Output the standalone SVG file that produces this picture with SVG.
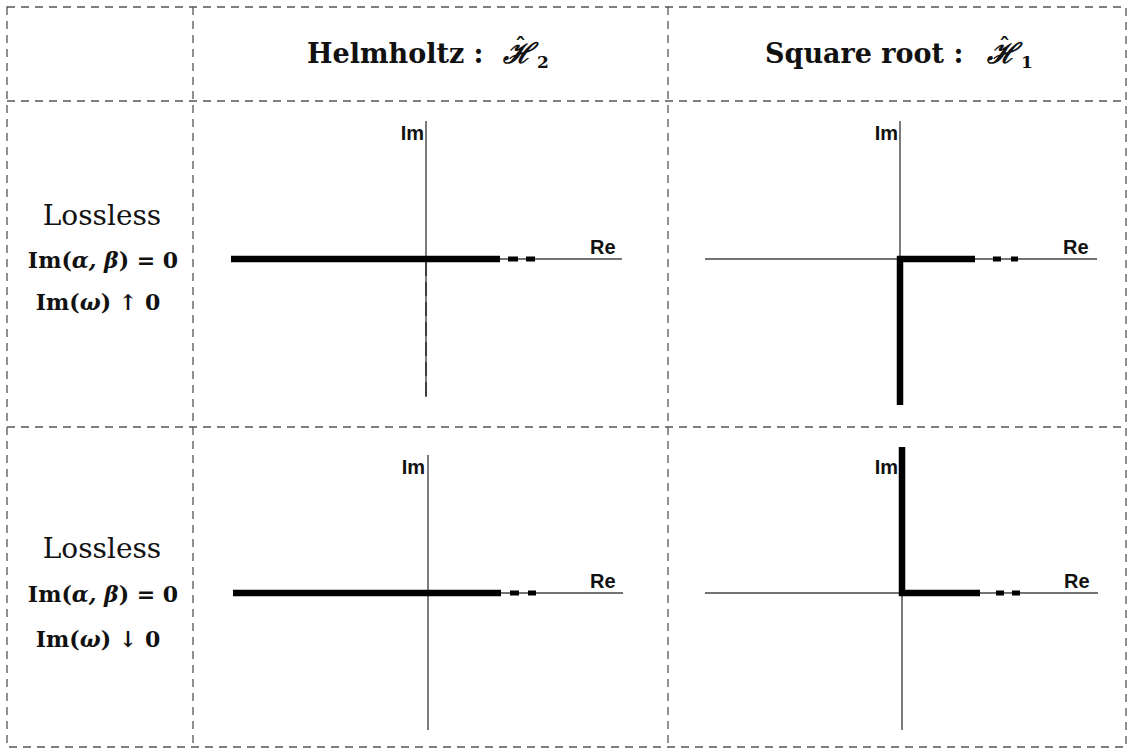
<svg xmlns="http://www.w3.org/2000/svg" width="1132" height="751" viewBox="0 0 1132 751">
  <style>
    .grid { stroke: #555; stroke-width: 1.3; stroke-dasharray: 8 6; fill: none; }
    .axis { stroke: #444; stroke-width: 1.4; fill: none; }
    .tick { stroke: #000; stroke-width: 1; stroke-dasharray: 14 6; fill: none; }
    .cut { stroke: #000; stroke-width: 6.5; fill: none; }
    .dot { stroke: #000; stroke-width: 5; fill: none; }
    .head { font-family: "DejaVu Serif", "Liberation Serif", serif; font-weight: bold; font-size: 27px; fill: #111; }
    .cal { font-family: "DejaVu Serif", serif; font-style: italic; font-weight: bold; font-size: 28px; fill: #111; }
    .hat { font-style: normal; font-size: 22px; }
    .sub { font-family: "DejaVu Serif", serif; font-style: normal; font-weight: bold; font-size: 17px; fill: #111; }
    .row1 { font-family: "DejaVu Serif", "Liberation Serif", serif; font-size: 28px; fill: #111; }
    .row2 { font-family: "DejaVu Serif", "Liberation Serif", serif; font-weight: bold; font-size: 22px; fill: #111; }
    .ax { font-family: "Liberation Sans", Arial, sans-serif; font-weight: bold; font-size: 20px; fill: #111; }
  </style>
  <rect width="1132" height="751" fill="#fff"/>

  <!-- table grid -->
  <g id="grid">
    <rect class="grid" x="7" y="7" width="1119" height="740"/>
    <line class="grid" x1="193" y1="7" x2="193" y2="747"/>
    <line class="grid" x1="668" y1="7" x2="668" y2="747"/>
    <line class="grid" x1="7" y1="101" x2="1126" y2="101"/>
    <line class="grid" x1="7" y1="427" x2="1126" y2="427"/>
  </g>

  <!-- column headers: the hat accent sits above the script H -->
  <g id="header-helmholtz">
    <text class="head" x="307" y="63">Helmholtz :</text>
    <text class="cal" x="503" y="63">ℋ<tspan class="hat" x="515" y="54">ˆ</tspan><tspan class="sub" x="537" y="68">2</tspan></text>
  </g>
  <g id="header-sqrt">
    <text class="head" x="765" y="63">Square root :</text>
    <text class="cal" x="987" y="63">ℋ<tspan class="hat" x="999" y="54">ˆ</tspan><tspan class="sub" x="1021" y="68">1</tspan></text>
  </g>

  <!-- row headers -->
  <g id="row-up">
    <text class="row1" x="102" y="225" text-anchor="middle">Lossless</text>
    <text class="row2" x="103" y="268" text-anchor="middle">Im(<tspan font-style="italic">α, β</tspan>) = 0</text>
    <text class="row2" x="98" y="310" text-anchor="middle">Im(<tspan font-style="italic">ω</tspan>) ↑ 0</text>
  </g>
  <g id="row-down">
    <text class="row1" x="102" y="558" text-anchor="middle">Lossless</text>
    <text class="row2" x="103" y="602" text-anchor="middle">Im(<tspan font-style="italic">α, β</tspan>) = 0</text>
    <text class="row2" x="98" y="647" text-anchor="middle">Im(<tspan font-style="italic">ω</tspan>) ↓ 0</text>
  </g>

  <!-- Helmholtz, Im(ω) ↑ 0 -->
  <g id="plot-h2-up">
    <line class="axis" x1="426" y1="121" x2="426" y2="397"/>
    <line class="tick" x1="426" y1="262" x2="426" y2="397"/>
    <line class="axis" x1="231" y1="259" x2="622" y2="259"/>
    <line class="cut" x1="231" y1="259" x2="500" y2="259"/>
    <line class="dot" x1="508" y1="259" x2="518" y2="259"/>
    <line class="dot" x1="526" y1="259" x2="535" y2="259"/>
    <text class="ax" x="424" y="140" text-anchor="end">Im</text>
    <text class="ax" x="590" y="254">Re</text>
  </g>

  <!-- Square root, Im(ω) ↑ 0 -->
  <g id="plot-h1-up">
    <line class="axis" x1="900" y1="121" x2="900" y2="259"/>
    <line class="axis" x1="705" y1="259" x2="1097" y2="259"/>
    <line class="cut" x1="900" y1="256" x2="900" y2="405"/>
    <line class="cut" x1="897" y1="259" x2="975" y2="259"/>
    <line class="dot" x1="993" y1="259" x2="1001" y2="259"/>
    <line class="dot" x1="1011" y1="259" x2="1018" y2="259"/>
    <text class="ax" x="898" y="140" text-anchor="end">Im</text>
    <text class="ax" x="1063" y="254">Re</text>
  </g>

  <!-- Helmholtz, Im(ω) ↓ 0 -->
  <g id="plot-h2-down">
    <line class="axis" x1="428" y1="455" x2="428" y2="730"/>
    <line class="axis" x1="233" y1="593" x2="623" y2="593"/>
    <line class="cut" x1="233" y1="593" x2="501" y2="593"/>
    <line class="dot" x1="510" y1="593" x2="519" y2="593"/>
    <line class="dot" x1="528" y1="593" x2="536" y2="593"/>
    <text class="ax" x="425" y="474" text-anchor="end">Im</text>
    <text class="ax" x="590" y="588">Re</text>
  </g>

  <!-- Square root, Im(ω) ↓ 0 -->
  <g id="plot-h1-down">
    <line class="axis" x1="902" y1="593" x2="902" y2="730"/>
    <line class="axis" x1="705" y1="593" x2="1098" y2="593"/>
    <line class="cut" x1="902" y1="447" x2="902" y2="596"/>
    <line class="cut" x1="899" y1="593" x2="980" y2="593"/>
    <line class="dot" x1="996" y1="593" x2="1004" y2="593"/>
    <line class="dot" x1="1012" y1="593" x2="1020" y2="593"/>
    <text class="ax" x="898" y="474" text-anchor="end">Im</text>
    <text class="ax" x="1064" y="588">Re</text>
  </g>
</svg>
